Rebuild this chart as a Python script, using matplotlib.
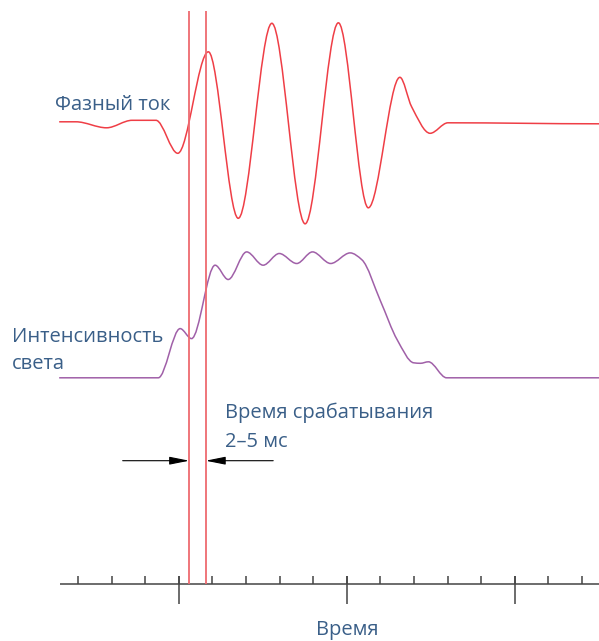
import numpy as np
from matplotlib import pyplot as plt
from matplotlib.path import Path
from matplotlib.patches import PathPatch

# time in minor-tick units (major tick every 5)
current_t = [-3.56, -3.06, -2.15, -1.39, -0.68, -0.03, 0.88, 1.77, 2.77,
             3.76, 4.75, 5.64, 6.58, 6.93, 7.48, 8.01, 12.51]
current = [0.0, 0.0, -0.6, 0.15, 0.15, -3.15, 7.0, -9.65, 9.85,
           -10.2, 9.9, -8.6, 4.45, 1.5, -1.15, -0.1, -0.2]

light_t = [-3.56, -0.61, 0.04, 0.38, 1.08, 1.47, 2.02, 2.51, 2.99, 3.51, 3.98,
           4.52, 5.10, 5.45, 6.0, 6.5, 6.99, 7.19, 7.43, 7.97, 12.51]
light = [0.0, 0.0, 4.92, 3.92, 11.26, 9.83, 12.59, 11.26, 12.43, 11.43, 12.59,
         11.43, 12.49, 11.8, 7.7, 3.8, 1.5, 1.45, 1.6, 0.0, 0.0]

response_start, response_end = 0.31, 0.80
minor_ticks = np.arange(-3, 13)
major_ticks = [0, 5, 10]

# vertical placement of the traces
CURRENT_LEVEL = 46.2
LIGHT_LEVEL = 20.6

TEXT_COLOR = '#3a5f88'
plt.rcParams['font.family'] = ['Open Sans', 'DejaVu Sans']


def smooth_path(x, y):
    # monotone cubic (pchip-like) through the read points, as bezier segments
    x, y = np.asarray(x, float), np.asarray(y, float)
    h = np.diff(x)
    delta = np.diff(y) / h
    d = np.zeros_like(x)
    for k in range(1, len(x) - 1):
        if delta[k - 1] * delta[k] > 0:
            w1 = 2 * h[k] + h[k - 1]
            w2 = h[k] + 2 * h[k - 1]
            d[k] = (w1 + w2) / (w1 / delta[k - 1] + w2 / delta[k])
    verts = [(x[0], y[0])]
    codes = [Path.MOVETO]
    for k in range(len(h)):
        verts += [(x[k] + h[k] / 3, y[k] + d[k] * h[k] / 3),
                  (x[k + 1] - h[k] / 3, y[k + 1] - d[k + 1] * h[k] / 3),
                  (x[k + 1], y[k + 1])]
        codes += [Path.CURVE4] * 3
    return Path(verts, codes)


fig = plt.figure(figsize=(5.99, 6.41), dpi=100)
ax = fig.add_axes([0, 0, 1, 1])
ax.set_xlim(-5.321, 12.506)
ax.set_ylim(-5.72, 58.38)
ax.axis('off')

# time axis
ax.plot([-3.55, 12.6], [0, 0], color='#444444', lw=1.1, solid_capstyle='butt')
ax.vlines(minor_ticks, 0, 0.78, color='#444444', lw=1.1)
ax.vlines(major_ticks, -2.0, 0.78, color='#444444', lw=1.1)

# traces
ax.add_patch(PathPatch(smooth_path(current_t, np.array(current) + CURRENT_LEVEL),
                       fill=False, edgecolor='#ef3e46', lw=1.1))
ax.add_patch(PathPatch(smooth_path(light_t, np.array(light) + LIGHT_LEVEL),
                       fill=False, edgecolor='#a060a8', lw=1.1))

# response time markers
ax.vlines([response_start, response_end], 0, 57.3, color='#ee6a70', lw=1.3)

arrow = dict(arrowstyle='-|>,head_length=0.6,head_width=0.12', color='black',
             lw=0.8, shrinkA=0, shrinkB=0, mutation_scale=20)
ax.annotate('', xy=(response_start, 12.31), xytext=(-1.67, 12.31), arrowprops=arrow)
ax.annotate('', xy=(response_end, 12.31), xytext=(2.81, 12.31), arrowprops=arrow)

label = dict(fontsize=14.5, color=TEXT_COLOR, va='baseline')
ax.text(-3.685, 47.38, 'Фазный ток', **label)
ax.text(-4.973, 24.21, 'Интенсивность', **label)
ax.text(-4.973, 21.45, 'света', **label)
ax.text(1.375, 16.55, 'Время срабатывания', **label)
ax.text(1.375, 13.71, '2–5 мс', **label)
ax.text(5, -5.1, 'Время', ha='center', **label)

fig.savefig('out.png', dpi=100)
